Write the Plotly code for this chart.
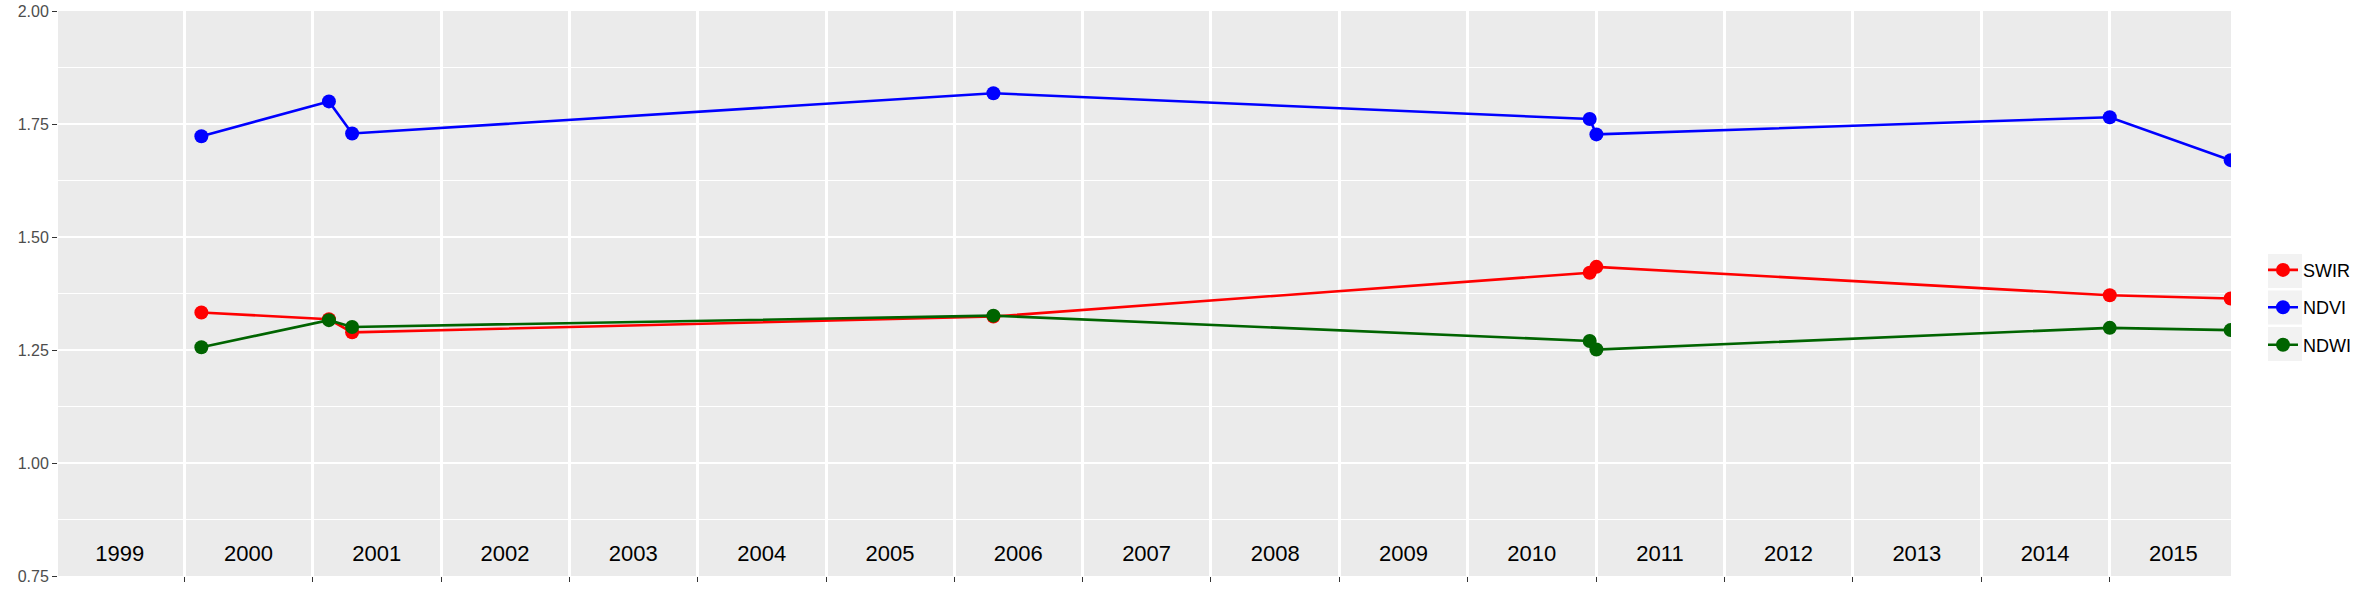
import plotly.graph_objects as go

# ---- data ----
dates = ["2000-02-19", "2001-02-16", "2001-04-23", "2006-04-22",
         "2010-12-14", "2011-01-02", "2015-01-02", "2015-12-12"]
swir = [1.333, 1.318, 1.289, 1.324, 1.421, 1.434, 1.371, 1.364]
ndvi = [1.723, 1.800, 1.729, 1.818, 1.761, 1.727, 1.765, 1.670]
ndwi = [1.256, 1.316, 1.301, 1.326, 1.270, 1.251, 1.299, 1.294]

series_names = ["SWIR", "NDVI", "NDWI"]
series_colors = ["#FF0000", "#0000FF", "#006400"]

year_labels = [str(y) for y in range(1999, 2016)]
year_label_x = [f"{y}-07-02" for y in range(1999, 2016)]
year_label_y = [0.796] * len(year_labels)

y_ticks = [0.75, 1.00, 1.25, 1.50, 1.75, 2.00]

# ---- figure ----
W, H = 2378, 593
ML, MT = 58, 11
MR = W - 2231
MB = H - 576
PW, PH = W - ML - MR, H - MT - MB

fig = go.Figure()
for name, vals, col in zip(series_names, [swir, ndvi, ndwi], series_colors):
    fig.add_trace(go.Scatter(
        x=dates, y=vals, name=name, legendgroup=name,
        mode="lines+markers",
        line=dict(color=col, width=2.6),
        marker=dict(color=col, size=14),
    ))

fig.add_trace(go.Scatter(
    x=year_label_x, y=year_label_y, text=year_labels, mode="text",
    textfont=dict(size=22, color="black", family="Liberation Sans, Arial"),
    showlegend=False, hoverinfo="skip",
))

def px_x(px):
    return (px - ML) / PW

def px_y(py):
    return (H - MB - py) / PH

shapes = []
for top in [254, 290.5, 327]:
    shapes.append(dict(type="rect", xref="paper", yref="paper",
                       x0=px_x(2268), x1=px_x(2302),
                       y0=px_y(top + 34), y1=px_y(top),
                       fillcolor="#F2F2F2", line=dict(width=0), layer="below"))

fig.update_layout(
    width=W, height=H,
    margin=dict(l=ML, r=MR, t=MT, b=MB, autoexpand=False),
    paper_bgcolor="white", plot_bgcolor="#EBEBEB",
    font=dict(family="Liberation Sans, Arial", size=16, color="#4D4D4D"),
    shapes=shapes,
    legend=dict(
        x=px_x(2263), xanchor="left", y=px_y(307.7), yanchor="middle",
        bgcolor="rgba(0,0,0,0)", font=dict(size=18, color="black"),
        tracegroupgap=11, traceorder="grouped",
    ),
    xaxis=dict(
        type="date", range=["1999-01-07", "2015-12-13"],
        tick0="2000-01-01", dtick="M12", automargin=False,
        showticklabels=False, ticks="outside", ticklen=5, tickwidth=1.2,
        tickcolor="#333333",
        showgrid=True, gridcolor="white", gridwidth=3.2,
        zeroline=False, showline=False,
    ),
    yaxis=dict(
        range=[0.75, 2.00], tickvals=y_ticks, tickformat=".2f",
        automargin=False, ticklabeloverflow="allow",
        ticks="outside", ticklen=5, tickwidth=1.2, tickcolor="#333333",
        tickfont=dict(size=16, color="#4D4D4D"),
        showgrid=True, gridcolor="white", gridwidth=2.2,
        minor=dict(dtick=0.125, tick0=0.75, showgrid=True, gridcolor="white", gridwidth=1.1),
        zeroline=False, showline=False,
    ),
)

fig.write_html(
    "out.html",
    config={"displayModeBar": False},
    post_script="document.body.style.margin='0';document.body.style.overflow='hidden';",
)
